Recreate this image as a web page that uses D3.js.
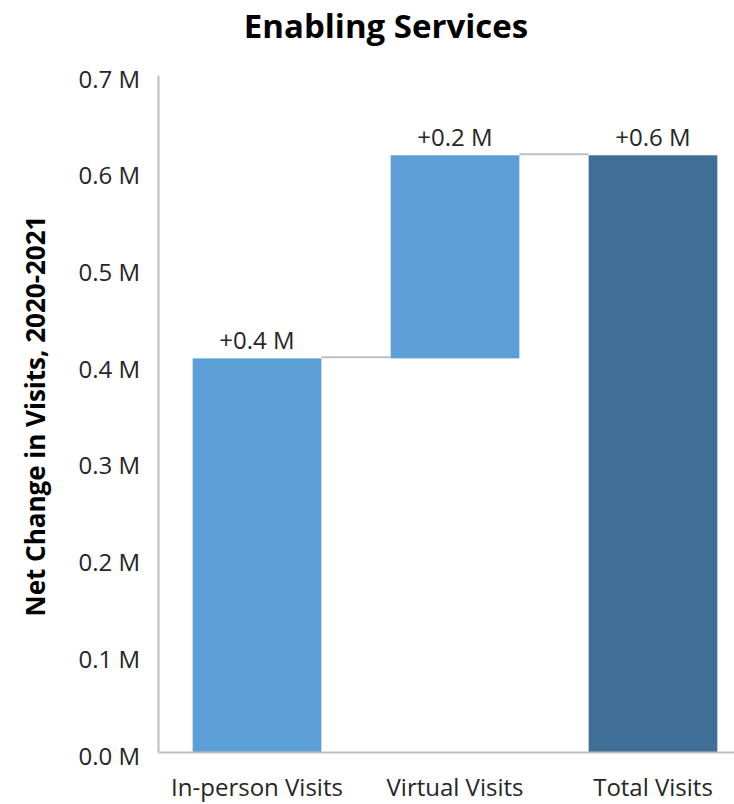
<!DOCTYPE html>
<html>
<head>
<meta charset="utf-8">
<script src="https://cdn.jsdelivr.net/npm/d3@7"></script>
<style>
  body { margin: 0; background: #fff; }
  svg text { font-family: "Open Sans", "Noto Sans", sans-serif; }
</style>
</head>
<body>
<div id="chart"></div>
<script>
// chart data
var categories = ["In-person Visits", "Virtual Visits", "Total Visits"];
var changes = [0.407, 0.21, 0.617];          // net change, millions
var isTotal = [false, false, true];
var barLabels = ["+0.4 M", "+0.2 M", "+0.6 M"];
var yTicks = [0, 0.1, 0.2, 0.3, 0.4, 0.5, 0.6, 0.7];

var width = 734, height = 804;
var margin = {top: 75, left: 158, bottom: 52};

var svg = d3.select("#chart").append("svg")
    .attr("width", width)
    .attr("height", height);

// build waterfall steps
var running = 0;
var steps = categories.map(function(c, i) {
    var start, end;
    if (isTotal[i]) { start = 0; end = changes[i]; }
    else { start = running; end = running + changes[i]; running = end; }
    return {name: c, start: start, end: end, total: isTotal[i], label: barLabels[i]};
});

var x = d3.scaleBand()
    .domain(categories)
    .range([margin.left, 752])
    .paddingInner(0.35)
    .paddingOuter(0.175);

var y = d3.scaleLinear()
    .domain([0, 0.7])
    .range([height - margin.bottom, margin.top]);

// title
svg.append("text")
    .attr("x", 386).attr("y", 38)
    .attr("text-anchor", "middle")
    .style("font-size", "33px")
    .style("font-weight", "bold")
    .attr("fill", "#000")
    .text("Enabling Services");

// y axis label
svg.append("text")
    .attr("transform", "translate(45,416) rotate(-90)")
    .attr("text-anchor", "middle")
    .style("font-size", "26px")
    .style("font-weight", "bold")
    .attr("fill", "#000")
    .text("Net Change in Visits, 2020-2021");

// y axis
var yAxis = svg.append("g")
    .attr("transform", "translate(" + margin.left + ",0)")
    .call(d3.axisLeft(y).tickValues(yTicks).tickSize(0).tickPadding(18)
        .tickFormat(function(d) { return d.toFixed(1) + " M"; }));
yAxis.select(".domain").attr("stroke", "#bfbfbf").attr("stroke-width", 2);
yAxis.selectAll("text")
    .style("font-size", "24px")
    .attr("fill", "#262626")
    .attr("dy", "0.5em");

// bars
svg.selectAll(".bar")
    .data(steps)
    .enter()
    .append("rect")
    .attr("class", "bar")
    .attr("x", function(d) { return x(d.name); })
    .attr("y", function(d) { return y(Math.max(d.start, d.end)); })
    .attr("width", x.bandwidth())
    .attr("height", function(d) { return Math.abs(y(d.start) - y(d.end)); })
    .attr("fill", function(d) { return d.total ? "#3f6f96" : "#5b9fd6"; });

// connector lines
var links = steps.slice(0, -1).map(function(d, i) { return {a: d, b: steps[i + 1]}; });
svg.selectAll(".link")
    .data(links)
    .enter()
    .append("line")
    .attr("x1", function(d) { return x(d.a.name) + x.bandwidth(); })
    .attr("x2", function(d) { return x(d.b.name); })
    .attr("y1", function(d) { return y(d.a.end) - 1; })
    .attr("y2", function(d) { return y(d.a.end) - 1; })
    .attr("stroke", "#bfbfbf")
    .attr("stroke-width", 2);

// x axis
var xAxis = svg.append("g")
    .attr("transform", "translate(0," + (height - margin.bottom) + ")")
    .call(d3.axisBottom(x).tickSize(0).tickPadding(27));
xAxis.select(".domain").attr("stroke", "#bfbfbf").attr("stroke-width", 2);
xAxis.selectAll("text")
    .style("font-size", "24px")
    .attr("fill", "#262626");

// value labels
svg.selectAll(".vlabel")
    .data(steps)
    .enter()
    .append("text")
    .attr("class", "vlabel")
    .attr("x", function(d) { return x(d.name) + x.bandwidth() / 2; })
    .attr("y", function(d) { return y(Math.max(d.start, d.end)) - 9; })
    .attr("text-anchor", "middle")
    .style("font-size", "24px")
    .attr("fill", "#262626")
    .text(function(d) { return d.label; });
</script>
</body>
</html>
